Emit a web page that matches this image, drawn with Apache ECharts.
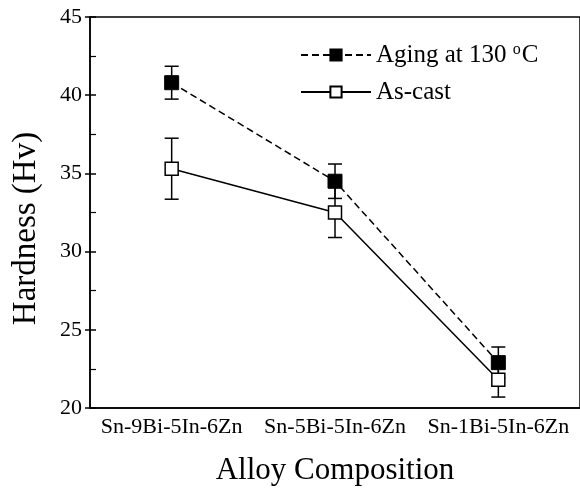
<!DOCTYPE html>
<html><head><meta charset="utf-8">
<script src="https://cdn.jsdelivr.net/npm/echarts@6/dist/echarts.min.js"></script>
<style>html,body{margin:0;padding:0;background:#fff}#c{width:580px;height:491px}</style>
</head><body><div id="c"></div>
<script>
const categories = ['Sn-9Bi-5In-6Zn', 'Sn-5Bi-5In-6Zn', 'Sn-1Bi-5In-6Zn'];
const agingMean = [40.8, 34.5, 22.9];
const agingErr = [1.05, 1.1, 1.0];
const castMean = [35.3, 32.5, 21.8];
const castErr = [1.95, 1.6, 1.1];
const seriesNames = ['Aging at 130 °C', 'As-cast'];

const FONT = '"Liberation Serif", "DejaVu Serif", serif';
function errData(mean, err) {
  return mean.map((m, i) => [i, m - err[i], m + err[i]]);
}
function errItem(params, api) {
  const x = api.value(0);
  const lo = api.coord([x, api.value(1)]);
  const hi = api.coord([x, api.value(2)]);
  const w = 7;
  const style = { stroke: '#000', lineWidth: 1.5, fill: null };
  return { type: 'group', children: [
    { type: 'line', shape: { x1: lo[0], y1: lo[1], x2: hi[0], y2: hi[1] }, style },
    { type: 'line', shape: { x1: lo[0] - w, y1: lo[1], x2: lo[0] + w, y2: lo[1] }, style },
    { type: 'line', shape: { x1: hi[0] - w, y1: hi[1], x2: hi[0] + w, y2: hi[1] }, style }
  ]};
}
const chart = echarts.init(document.getElementById('c'), null, { renderer: 'canvas' });
chart.setOption({
  animation: false,
  backgroundColor: '#fff',
  textStyle: { fontFamily: FONT, color: '#000' },
  grid: { left: 90, top: 17, width: 492, height: 392, show: true, borderColor: '#000', borderWidth: 1.5, backgroundColor: 'transparent' },
  legend: {
    orient: 'vertical', left: 295, top: 37, itemWidth: 70, itemHeight: 14, itemGap: 12,
    data: seriesNames,
    textStyle: { fontFamily: FONT, fontSize: 25, color: '#000',
      rich: { sup: { fontFamily: FONT, fontSize: 16, color: '#000', verticalAlign: 'top', padding: [0, 1, 10, 0] } } },
    formatter: n => n.replace('°', '{sup|o}')
  },
  xAxis: {
    type: 'category', data: categories, boundaryGap: true,
    axisLine: { lineStyle: { color: '#000', width: 1.5 } },
    axisTick: { inside: true, alignWithLabel: true, length: 8, lineStyle: { color: '#000', width: 1.5 } },
    axisLabel: { fontFamily: FONT, fontSize: 22, color: '#000', margin: 8, interval: 0, hideOverlap: false },
    name: 'Alloy Composition', nameLocation: 'middle', nameGap: 47,
    nameTextStyle: { fontFamily: FONT, fontSize: 31, color: '#000' },
    splitLine: { show: false }
  },
  yAxis: [{
    type: 'value', min: 20, max: 45, interval: 5,
    axisLine: { show: true, lineStyle: { color: '#000', width: 1.5 } },
    axisTick: { show: true, inside: true, length: 6, lineStyle: { color: '#000', width: 1.5 } },
    minorTick: { show: true, splitNumber: 2, length: 6, lineStyle: { color: '#000', width: 1.2 } },
    axisLabel: { fontFamily: FONT, fontSize: 22, color: '#000', margin: 8 },
    splitLine: { show: false },
    name: 'Hardness (Hv)', nameLocation: 'middle', nameGap: 47,
    nameTextStyle: { fontFamily: FONT, fontSize: 33, color: '#000', padding: [0, 32, 0, 0] }
  }, {
    type: 'value', min: 20, max: 45, interval: 5, position: 'left',
    axisLine: { show: false }, axisLabel: { show: false }, splitLine: { show: false },
    axisTick: { show: true, inside: false, length: 5, lineStyle: { color: '#000', width: 1.5 } }
  }],
  series: [
    { type: 'custom', name: 'errAging', renderItem: errItem, data: errData(agingMean, agingErr), z: 1, silent: true },
    { type: 'custom', name: 'errCast', renderItem: errItem, data: errData(castMean, castErr), z: 1, silent: true },
    { type: 'line', name: seriesNames[0], data: agingMean, z: 3,
      symbol: 'rect', symbolSize: 14,
      itemStyle: { color: '#000', borderColor: '#000', borderWidth: 1 },
      lineStyle: { color: '#000', width: 1.5, type: [7, 4] } },
    { type: 'line', name: seriesNames[1], data: castMean, z: 3,
      symbol: 'rect', symbolSize: 13,
      itemStyle: { color: '#fff', borderColor: '#000', borderWidth: 1.5 },
      lineStyle: { color: '#000', width: 1.5 } }
  ]
});
</script></body></html>
